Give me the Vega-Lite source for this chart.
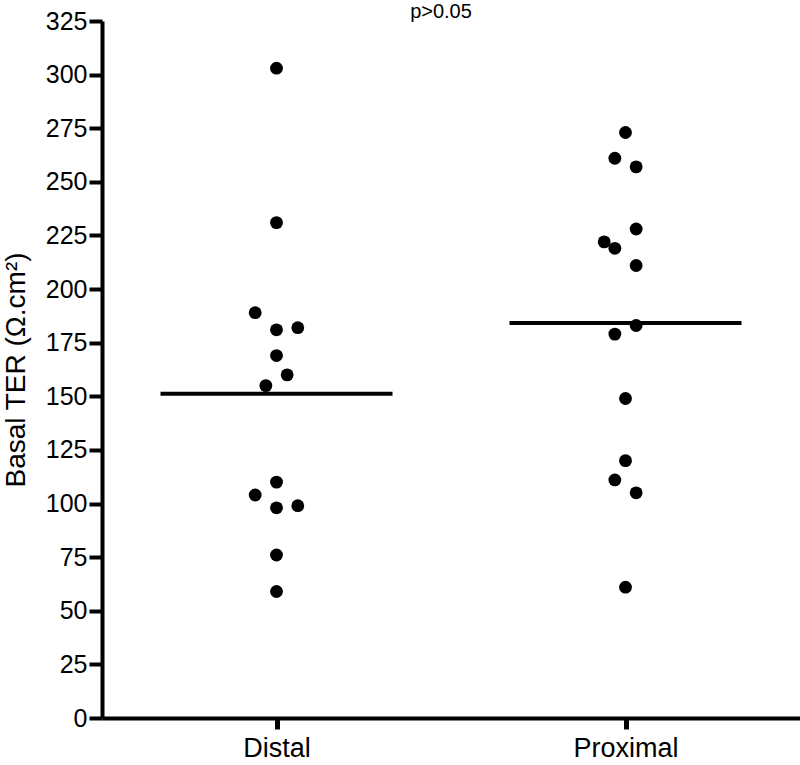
{
  "$schema": "https://vega.github.io/schema/vega-lite/v6.json",
  "autosize": {"type": "none"},
  "padding": {"left": 102, "top": 21, "right": 0, "bottom": 47},
  "width": 698,
  "height": 697,
  "background": "white",
  "title": {
    "text": "p>0.05",
    "fontSize": 20,
    "fontWeight": "normal",
    "font": "Liberation Sans",
    "color": "black",
    "anchor": "middle",
    "frame": "group",
    "baseline": "alphabetic",
    "dx": -10,
    "offset": -29
  },
  "config": {
    "view": {"stroke": null},
    "font": "Liberation Sans",
    "axis": {
      "grid": false,
      "domainColor": "black",
      "domainWidth": 4,
      "tickColor": "black",
      "labelColor": "black",
      "titleColor": "black",
      "labelFont": "Liberation Sans",
      "titleFont": "Liberation Sans"
    }
  },
  "data": {
    "values": [
      {"group": "Distal", "value": 303, "slot": 0},
      {"group": "Distal", "value": 231, "slot": 0},
      {"group": "Distal", "value": 189, "slot": -2},
      {"group": "Distal", "value": 181, "slot": 0},
      {"group": "Distal", "value": 182, "slot": 2},
      {"group": "Distal", "value": 169, "slot": 0},
      {"group": "Distal", "value": 160, "slot": 1},
      {"group": "Distal", "value": 155, "slot": -1},
      {"group": "Distal", "value": 110, "slot": 0},
      {"group": "Distal", "value": 104, "slot": -2},
      {"group": "Distal", "value": 98, "slot": 0},
      {"group": "Distal", "value": 99, "slot": 2},
      {"group": "Distal", "value": 76, "slot": 0},
      {"group": "Distal", "value": 59, "slot": 0},
      {"group": "Proximal", "value": 273, "slot": 0},
      {"group": "Proximal", "value": 261, "slot": -1},
      {"group": "Proximal", "value": 257, "slot": 1},
      {"group": "Proximal", "value": 228, "slot": 1},
      {"group": "Proximal", "value": 222, "slot": -2},
      {"group": "Proximal", "value": 219, "slot": -1},
      {"group": "Proximal", "value": 211, "slot": 1},
      {"group": "Proximal", "value": 183, "slot": 1},
      {"group": "Proximal", "value": 179, "slot": -1},
      {"group": "Proximal", "value": 149, "slot": 0},
      {"group": "Proximal", "value": 120, "slot": 0},
      {"group": "Proximal", "value": 111, "slot": -1},
      {"group": "Proximal", "value": 105, "slot": 1},
      {"group": "Proximal", "value": 61, "slot": 0}
    ]
  },
  "encoding": {
    "x": {
      "field": "group",
      "type": "nominal",
      "scale": {"type": "point", "padding": 0.5},
      "axis": {
        "title": null,
        "labelAngle": 0,
        "labelFontSize": 27,
        "labelPadding": 6,
        "tickSize": 11,
        "tickWidth": 5
      }
    },
    "y": {
      "type": "quantitative",
      "scale": {"domain": [0, 325], "nice": false, "zero": true},
      "axis": {
        "title": "Basal TER  (Ω.cm²)",
        "titleFontSize": 28,
        "titleFontWeight": "normal",
        "titlePadding": 15,
        "values": [0, 25, 50, 75, 100, 125, 150, 175, 200, 225, 250, 275, 300, 325],
        "labelFontSize": 25,
        "labelPadding": 2,
        "tickSize": 13,
        "tickWidth": 4
      }
    }
  },
  "layer": [
    {
      "mark": {"type": "circle", "size": 165, "color": "black", "opacity": 1},
      "encoding": {
        "y": {"field": "value", "type": "quantitative"},
        "xOffset": {
          "field": "slot",
          "type": "quantitative",
          "scale": {"domain": [-2, 2], "range": [-21.3, 21.3]}
        }
      }
    },
    {
      "mark": {"type": "tick", "orient": "horizontal", "size": 232, "thickness": 4, "color": "black", "opacity": 1},
      "encoding": {
        "y": {"field": "value", "aggregate": "mean", "type": "quantitative"}
      }
    }
  ]
}
